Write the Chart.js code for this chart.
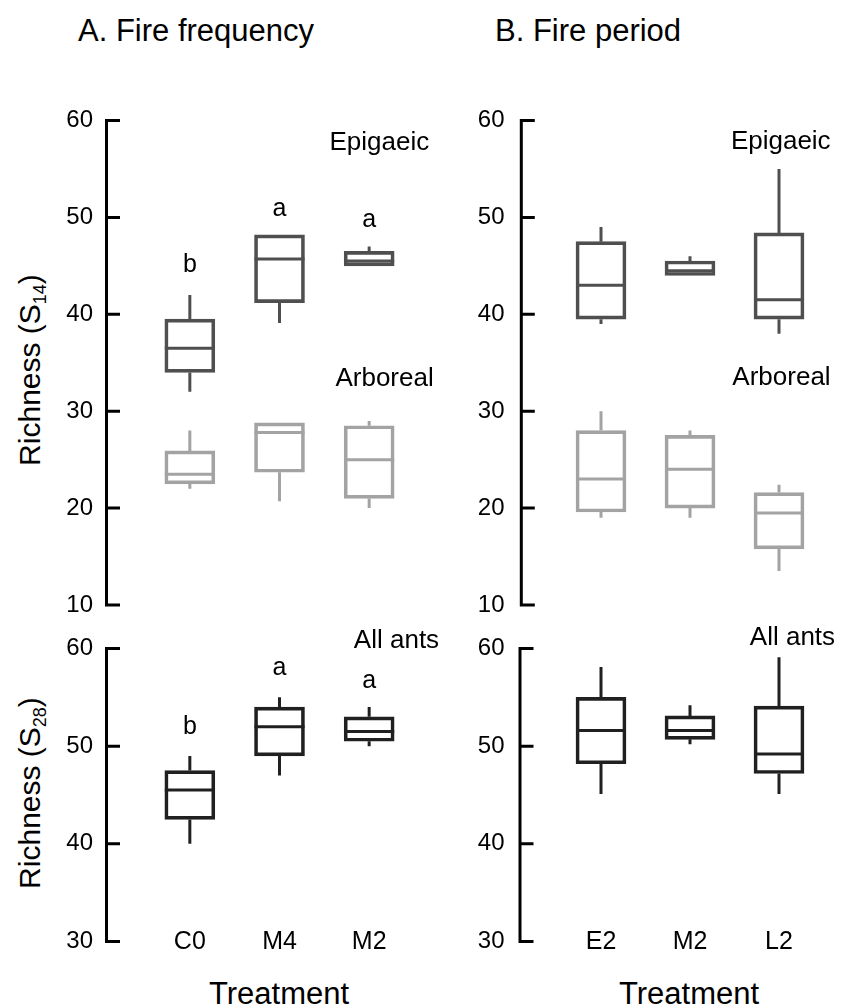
<!DOCTYPE html>
<html>
<head>
<meta charset="utf-8">
<script src="https://cdn.jsdelivr.net/npm/chart.js@4.4.1/dist/chart.umd.min.js"></script>
<style>
  html, body { margin: 0; padding: 0; background: #fff; }
  #fig { position: relative; width: 843px; height: 1008px; font-family: "Liberation Sans", Arial, sans-serif; color: #000; }
  #fig canvas { position: absolute; }
  .txt { position: absolute; white-space: nowrap; font-size: 31px; line-height: 30px; }
  .ylab { font-size: 30px; transform: translate(-50%, -50%) rotate(-90deg); }
  .xlab { transform: translateX(-50%); }
  sub { font-size: 18px; vertical-align: -6px; line-height: 0; }
</style>
</head>
<body>
<div id="fig">
  <div class="txt" style="left:78px; top:16px">A. Fire frequency</div>
  <div class="txt" style="left:495px; top:16px">B. Fire period</div>
  <div class="txt ylab" style="left:30px; top:370px">Richness (S<sub>14</sub>)</div>
  <div class="txt ylab" style="left:30px; top:793px">Richness (S<sub>28</sub>)</div>
  <div class="txt xlab" style="left:279px; top:979px">Treatment</div>
  <div class="txt xlab" style="left:689px; top:979px">Treatment</div>
  <canvas id="tl" width="445" height="535" style="left:0; top:95px"></canvas>
  <canvas id="tr" width="398" height="535" style="left:445px; top:95px"></canvas>
  <canvas id="bl" width="445" height="360" style="left:0; top:615px"></canvas>
  <canvas id="br" width="398" height="360" style="left:445px; top:615px"></canvas>
</div>

<script>
  // Treatments
  const catsFreq = ['C0', 'M4', 'M2'];
  const catsPeriod = ['E2', 'M2', 'L2'];

  // A. Fire frequency - epigaeic (S14)
  const epiFreqMin = [32.0, 39.1, 45.0];
  const epiFreqQ1  = [34.0, 41.2, 45.0];
  const epiFreqMed = [36.5, 45.7, 45.5];
  const epiFreqQ3  = [39.5, 48.2, 46.5];
  const epiFreqMax = [42.0, 48.2, 47.0];

  // A. Fire frequency - arboreal (S14)
  const arbFreqMin = [22.0, 20.7, 20.0];
  const arbFreqQ1  = [22.5, 23.7, 21.0];
  const arbFreqMed = [23.5, 27.8, 25.0];
  const arbFreqQ3  = [25.9, 28.8, 28.5];
  const arbFreqMax = [28.0, 28.8, 29.0];

  // B. Fire period - epigaeic (S14)
  const epiPerMin = [39.0, 44.0, 38.0];
  const epiPerQ1  = [39.5, 44.0, 39.5];
  const epiPerMed = [43.0, 44.5, 41.5];
  const epiPerQ3  = [47.5, 45.5, 48.4];
  const epiPerMax = [49.0, 46.0, 55.0];

  // B. Fire period - arboreal (S14)
  const arbPerMin = [19.0, 19.0, 13.5];
  const arbPerQ1  = [19.6, 20.0, 15.8];
  const arbPerMed = [23.0, 24.0, 19.5];
  const arbPerQ3  = [28.0, 27.5, 21.6];
  const arbPerMax = [30.0, 28.0, 22.4];

  // All ants (S28)
  const allFreqMin = [40.0, 47.0, 50.0];
  const allFreqQ1  = [42.5, 49.0, 50.5];
  const allFreqMed = [45.5, 52.0, 51.5];
  const allFreqQ3  = [47.5, 54.0, 53.0];
  const allFreqMax = [49.0, 55.0, 54.0];

  const allPerMin = [45.1, 50.2, 45.1];
  const allPerQ1  = [48.2, 50.7, 47.2];
  const allPerMed = [51.6, 51.6, 49.2];
  const allPerQ3  = [55.0, 53.1, 54.1];
  const allPerMax = [58.1, 54.2, 59.1];

  // significance letters (fire frequency only)
  const sigFreq = ['b', 'a', 'a'];
  const sigFreqTopY = [45.1, 50.9, 49.7];
  const sigFreqAllY = [52.0, 58.0, 56.7];

  const FONT = "'Liberation Sans', Arial, sans-serif";
  Chart.defaults.font.family = FONT;
  Chart.defaults.color = '#000';

  const EPI = '#4f4f4f', ARB = '#a3a3a3', ALL = '#202020';

  function boxSet(label, color, q1, med, q3, min, max) {
    return {
      label: label,
      data: q1.map((v, i) => [v, q3[i]]),
      stats: { q1, med, q3, min, max },
      backgroundColor: 'rgba(0,0,0,0)',
      borderColor: color,
      borderWidth: 3,
      borderSkipped: false,
      barThickness: 50,
      grouped: false
    };
  }

  // whiskers and medians, drawn from the scales
  const whiskerPlugin = {
    id: 'whiskers',
    afterDatasetsDraw(chart) {
      const { ctx, scales: { x, y } } = chart;
      chart.data.datasets.forEach((ds, di) => {
        const meta = chart.getDatasetMeta(di);
        const s = ds.stats;
        ctx.save();
        ctx.strokeStyle = ds.borderColor;
        ctx.lineWidth = 3;
        meta.data.forEach((bar, i) => {
          const cx = x.getPixelForValue(i);
          const half = bar.width / 2;
          const ym = y.getPixelForValue(s.med[i]);
          ctx.beginPath();
          ctx.moveTo(cx, y.getPixelForValue(s.max[i]));
          ctx.lineTo(cx, y.getPixelForValue(s.q3[i]));
          ctx.moveTo(cx, y.getPixelForValue(s.q1[i]));
          ctx.lineTo(cx, y.getPixelForValue(s.min[i]));
          ctx.moveTo(cx - half, ym);
          ctx.lineTo(cx + half, ym);
          ctx.stroke();
        });
        ctx.restore();
      });
    }
  };

  // detached y axis line with inward ticks
  const spinePlugin = {
    id: 'spine',
    afterDraw(chart, args, opts) {
      const { ctx, chartArea, scales: { y } } = chart;
      const sx = chartArea.left - opts.gap;
      ctx.save();
      ctx.strokeStyle = '#000';
      ctx.lineWidth = 3;
      ctx.lineCap = 'square';
      ctx.beginPath();
      ctx.moveTo(sx, y.getPixelForValue(y.max));
      ctx.lineTo(sx, y.getPixelForValue(y.min));
      y.ticks.forEach(t => {
        const ty = y.getPixelForValue(t.value);
        ctx.moveTo(sx, ty);
        ctx.lineTo(sx + 12, ty);
      });
      ctx.stroke();
      ctx.restore();
    }
  };

  // text notes placed in data units
  const notesPlugin = {
    id: 'notes',
    afterDraw(chart, args, opts) {
      const { ctx, scales: { x, y } } = chart;
      ctx.save();
      ctx.fillStyle = '#000';
      ctx.textBaseline = 'middle';
      (opts.items || []).forEach(n => {
        ctx.font = n.size + 'px ' + FONT;
        ctx.textAlign = n.align || 'center';
        ctx.fillText(n.text, x.getPixelForValue(n.x), y.getPixelForValue(n.y));
      });
      ctx.restore();
    }
  };

  function makePanel(id, cats, datasets, cfg) {
    return new Chart(document.getElementById(id), {
      type: 'bar',
      data: { labels: cats, datasets: datasets },
      options: {
        responsive: false,
        animation: false,
        layout: { padding: cfg.padding },
        plugins: {
          legend: { display: false },
          tooltip: { enabled: false },
          spine: { gap: cfg.gap },
          notes: { items: cfg.notes }
        },
        scales: {
          x: {
            display: cfg.showX,
            offset: true,
            grid: { display: false, drawTicks: false },
            border: { display: false },
            ticks: { font: { size: 25 }, mirror: true, padding: -16 },
            afterFit: s => { s.height = cfg.showX ? 30 : 0; }
          },
          y: {
            min: cfg.min,
            max: cfg.max,
            grid: { display: false, drawTicks: false },
            border: { display: false },
            ticks: { stepSize: 10, font: { size: 24 }, padding: 52 },
            afterFit: s => {
              s.width = cfg.yWidth;
              s.paddingTop = 0;
              s.paddingBottom = 0;
            }
          }
        }
      },
      plugins: [whiskerPlugin, spinePlugin, notesPlugin]
    });
  }

  const lettersTop = sigFreq.map((t, i) => ({ text: t, x: i, y: sigFreqTopY[i], size: 25 }));
  const lettersAll = sigFreq.map((t, i) => ({ text: t, x: i, y: sigFreqAllY[i], size: 25 }));

  makePanel('tl', catsFreq, [
    boxSet('Epigaeic', EPI, epiFreqQ1, epiFreqMed, epiFreqQ3, epiFreqMin, epiFreqMax),
    boxSet('Arboreal', ARB, arbFreqQ1, arbFreqMed, arbFreqQ3, arbFreqMin, arbFreqMax)
  ], {
    min: 10, max: 60, showX: false, yWidth: 145, gap: 38.5,
    padding: { left: 0, right: 31, top: 25.5, bottom: 25 },
    notes: [
      { text: 'Epigaeic', x: 2.67, y: 57.7, size: 26, align: 'right' },
      { text: 'Arboreal', x: 2.72, y: 33.3, size: 26, align: 'right' }
    ].concat(lettersTop)
  });

  makePanel('tr', catsPeriod, [
    boxSet('Epigaeic', EPI, epiPerQ1, epiPerMed, epiPerQ3, epiPerMin, epiPerMax),
    boxSet('Arboreal', ARB, arbPerQ1, arbPerMed, arbPerQ3, arbPerMin, arbPerMax)
  ], {
    min: 10, max: 60, showX: false, yWidth: 111.5, gap: 35.2,
    padding: { left: 0, right: 19.5, top: 25.5, bottom: 25 },
    notes: [
      { text: 'Epigaeic', x: 2.58, y: 57.8, size: 26, align: 'right' },
      { text: 'Arboreal', x: 2.58, y: 33.4, size: 26, align: 'right' }
    ]
  });

  makePanel('bl', catsFreq, [
    boxSet('All ants', ALL, allFreqQ1, allFreqMed, allFreqQ3, allFreqMin, allFreqMax)
  ], {
    min: 30, max: 60, showX: true, yWidth: 145, gap: 38.5,
    padding: { left: 0, right: 31, top: 33.5, bottom: 3.5 },
    notes: [
      { text: 'All ants', x: 2.78, y: 60.8, size: 26, align: 'right' }
    ].concat(lettersAll)
  });

  makePanel('br', catsPeriod, [
    boxSet('All ants', ALL, allPerQ1, allPerMed, allPerQ3, allPerMin, allPerMax)
  ], {
    min: 30, max: 60, showX: true, yWidth: 111.5, gap: 36.5,
    padding: { left: 0, right: 19.5, top: 33.5, bottom: 3.5 },
    notes: [
      { text: 'All ants', x: 2.63, y: 61.1, size: 26, align: 'right' }
    ]
  });
</script>
</body>
</html>
